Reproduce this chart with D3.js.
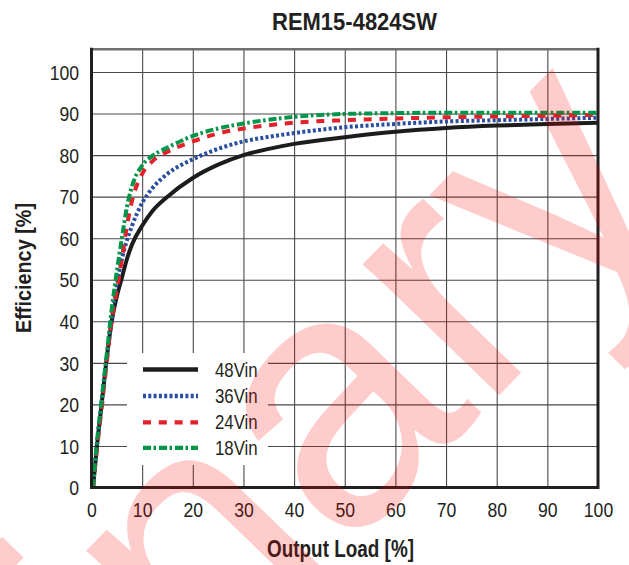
<!DOCTYPE html>
<html><head><meta charset="utf-8">
<script src="https://cdn.jsdelivr.net/npm/d3@7"></script>
<style>body{margin:0;background:#fff}svg{display:block}</style>
</head><body><svg id="c" width="629" height="565"></svg>
<script>
// ---- data ----
const loadPct = [0.3, 1, 2, 3, 4, 5, 6, 7, 8, 10, 12, 15, 20, 25, 30, 35, 40, 50, 60, 70, 80, 90, 100];
const eff48Vin = [0, 9, 20, 31, 40, 46, 50.5, 55, 58.5, 63, 66.5, 70, 74.5, 77.7, 80, 81.5, 82.7, 84.3, 85.6, 86.5, 87.1, 87.5, 87.8];
const eff36Vin = [0, 9.5, 20.5, 31, 41, 49, 55, 59.5, 63, 68.5, 72, 75.5, 79, 81.5, 83.3, 84.4, 85.3, 86.7, 87.5, 88.1, 88.4, 88.7, 89.0];
const eff24Vin = [0, 8.5, 19, 30, 40.5, 47.5, 55, 63, 69, 75.5, 78.5, 80.8, 83.3, 85.2, 86.4, 87.2, 87.8, 88.4, 88.8, 89.1, 89.3, 89.5, 89.7];
const eff18Vin = [0, 10, 21, 32, 43, 52, 60, 67.5, 72.5, 77.5, 79.8, 81.8, 84.6, 86.4, 87.6, 88.5, 89.2, 89.9, 90.1, 90.2, 90.2, 90.2, 90.2];
const seriesNames = ["48Vin", "36Vin", "24Vin", "18Vin"];
const xTicks = [0, 10, 20, 30, 40, 50, 60, 70, 80, 90, 100];
const yTicks = [0, 10, 20, 30, 40, 50, 60, 70, 80, 90, 100];
const titleText = "REM15-4824SW";
const xTitle = "Output Load [%]";
const yTitle = "Efficiency [%]";
const watermarkText = "Preliminary";

// ---- styles ----
const styles = {
  "48Vin": {color: "#1c1c1c", dash: null},
  "36Vin": {color: "#2a4f9f", dash: "3,2.3"},
  "24Vin": {color: "#e4202a", dash: "8,7.8"},
  "18Vin": {color: "#00964a", dash: "8,2.5,2.6,2.9"}
};
const seriesData = {"48Vin": eff48Vin, "36Vin": eff36Vin, "24Vin": eff24Vin, "18Vin": eff18Vin};
const sans = "'Liberation Sans',Arial,sans-serif";
const txtCol = "#231f20";
function squeeze(sel, f) {
  sel.each(function () {
    const len = this.getComputedTextLength();
    d3.select(this).attr("textLength", len * f).attr("lengthAdjust", "spacingAndGlyphs");
  });
}

const svg = d3.select("#c");
const x = d3.scaleLinear().domain([0, 100]).range([91.5, 598]);
const y = d3.scaleLinear().domain([0, 100]).range([487.5, 72]);
const yTop = 105.5;

// grid
const grid = svg.append("g");
grid.append("g").attr("transform", `translate(0,${y(0)})`)
  .call(d3.axisBottom(x).tickValues(xTicks.slice(1, -1)).tickSize(-(y(0) - y(yTop))).tickFormat(""))
  .call(g => g.select(".domain").remove())
  .call(g => g.selectAll("line").attr("stroke", "#4a4a4a").attr("stroke-width", 1.1));
grid.append("g").attr("transform", `translate(${x(0)},0)`)
  .call(d3.axisLeft(y).tickValues(yTicks.slice(1)).tickSize(-(x(100) - x(0))).tickFormat(""))
  .call(g => g.select(".domain").remove())
  .call(g => g.selectAll("line").attr("stroke", "#4a4a4a").attr("stroke-width", 1.1));

// legend background
svg.append("rect").attr("x", 127).attr("y", 353).attr("width", 141).attr("height", 112).attr("fill", "#fff");

// curves
const line = d3.line().curve(d3.curveMonotoneX).x(d => x(d[0])).y(d => y(d[1]));
seriesNames.forEach(n => {
  const pts = loadPct.map((l, i) => [l, seriesData[n][i]]);
  svg.append("path").datum(pts).attr("d", line)
    .attr("fill", "none").attr("stroke", styles[n].color).attr("stroke-width", 4)
    .attr("stroke-dasharray", styles[n].dash);
});

// frame
svg.append("line").attr("x1", x(0)).attr("x2", x(100)).attr("y1", y(yTop)).attr("y2", y(yTop))
  .attr("stroke", "#707070").attr("stroke-width", 2.5);
svg.append("path")
  .attr("d", `M${x(0)},${y(yTop)}V${y(0)}H${x(100)}V${y(yTop)}`)
  .attr("fill", "none").attr("stroke", "#231f20").attr("stroke-width", 3).attr("stroke-linecap", "square");

// axis labels
const xa = svg.append("g").attr("transform", `translate(0,${y(0)})`)
  .call(d3.axisBottom(x).tickValues(xTicks).tickSize(0).tickPadding(0).tickFormat(d3.format("d")));
xa.select(".domain").remove();
xa.selectAll("text").attr("y", 29.5).attr("dy", null)
  .attr("font-family", sans).attr("font-size", 20).attr("fill", txtCol).call(squeeze, 0.88);
const ya = svg.append("g").attr("transform", `translate(${x(0)},0)`)
  .call(d3.axisLeft(y).tickValues(yTicks).tickSize(0).tickPadding(12.5).tickFormat(d3.format("d")));
ya.select(".domain").remove();
ya.selectAll("text").attr("dy", "0.36em")
  .attr("font-family", sans).attr("font-size", 20).attr("fill", txtCol).call(squeeze, 0.88);

// titles
svg.append("text").attr("x", 354.5).attr("y", 29.5).attr("text-anchor", "middle")
  .attr("font-family", sans).attr("font-weight", "bold").attr("font-size", 23.5).attr("fill", txtCol)
  .attr("textLength", 165).attr("lengthAdjust", "spacingAndGlyphs").text(titleText);
svg.append("text").attr("x", 340.5).attr("y", 557).attr("text-anchor", "middle")
  .attr("font-family", sans).attr("font-weight", "bold").attr("font-size", 23.5).attr("fill", txtCol)
  .attr("textLength", 147).attr("lengthAdjust", "spacingAndGlyphs").text(xTitle);
svg.append("text").attr("transform", "translate(31,268) rotate(-90)").attr("text-anchor", "middle")
  .attr("font-family", sans).attr("font-weight", "bold").attr("font-size", 22.5).attr("fill", txtCol)
  .attr("textLength", 130).attr("lengthAdjust", "spacingAndGlyphs").text(yTitle);

// legend
const legY = [369.5, 396, 422.3, 447.8];
seriesNames.forEach((n, i) => {
  svg.append("line").attr("x1", 143).attr("x2", 198).attr("y1", legY[i]).attr("y2", legY[i])
    .attr("stroke", styles[n].color).attr("stroke-width", 4.3).attr("stroke-dasharray", styles[n].dash);
  svg.append("text").attr("x", 215).attr("y", legY[i] + 7).attr("font-family", sans)
    .attr("font-size", 20).attr("fill", txtCol).text(n).call(squeeze, 0.84);
});

// watermark
svg.append("text").attr("transform", "translate(-554.5,1486.4) rotate(-46)")
  .attr("font-family", sans).attr("font-size", 358)
  .attr("fill", "#ff0000").attr("fill-opacity", 0.2).text(watermarkText);
</script></body></html>
